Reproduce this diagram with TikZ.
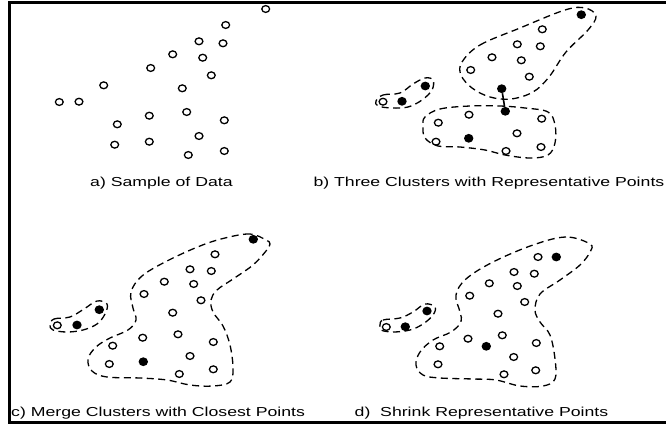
\documentclass[tikz,border=0pt]{standalone}
\usepackage{fontspec}
\setmainfont{Liberation Sans}
\usetikzlibrary{shapes.geometric}
\tikzset{
  op/.style={ellipse, draw, line width=1.3pt, minimum width=7.8pt, minimum height=6.8pt, inner sep=0pt},
  fp/.style={ellipse, fill, minimum width=9.4pt, minimum height=8.8pt, inner sep=0pt},
  hull/.style={dash pattern=on 7pt off 4.5pt, line width=1.3pt},
  capt/.style={anchor=base west, inner sep=0pt, font=\fontsize{13}{15}\selectfont},
  frm/.style={line width=3pt},
  link/.style={line width=1.6pt}
}
\newcommand{\wide}[1]{\scalebox{1.36}[1]{#1}}
\begin{document}
\begin{tikzpicture}[x=1pt,y=-1pt]
\useasboundingbox (0,0) rectangle (666,425);
\fill[white] (0,0) rectangle (666,425);
% frame
\draw[frm] (666,3) -- (9,3) -- (9,422) -- (666,422);

% ---- a) sample of data
\foreach \x/\y [count=\i] in {265.7/9, 225.7/25, 199/41.3, 223/43.3, 172.7/54.3, 202.7/57.7,
  150.7/68, 211.3/75.3, 103.7/85.3, 182.3/88.3, 59.3/102, 79/101.7, 149.3/115.7, 186.7/112,
  117.3/124.3, 224.3/120.3, 199/136, 114.7/144.7, 149.3/141.7, 188.3/155, 224.3/151}
  \node[op] (a\i) at (\x,\y) {};
\node[capt] (capa) at (90,186) {\wide{a) Sample of Data}};

% ---- b) three clusters
\draw[hull] plot[smooth cycle, tension=0.6] coordinates {(462,62) (480,45) (520,28) (565,10) (585,8) (596,16) (588,30) (566,52) (549,77) (533,92) (511,99) (490,97) (472,88) (461,75)};
\draw[hull] plot[smooth cycle, tension=0.6] coordinates {(425,117) (440,109) (470,106) (500,106) (525,108) (548,112) (555,125) (555,143) (548,155) (530,158) (505,155) (485,150) (460,147) (438,146) (425,138) (423,126)};
\draw[hull] plot[smooth cycle, tension=0.6] coordinates {(376,101) (383,95) (400,93) (413,84) (425,78) (433,80) (432,90) (422,100) (408,107) (392,108) (378,106)};
\foreach \x/\y [count=\i] in {542.3/29.3, 517.3/44.3, 540.3/46.3, 492/57.3, 521.3/60.3, 470.7/70,
  529.3/76.7, 383/101.7, 469/114.7, 438.3/122.7, 541.7/118.7, 517/133.3, 436/141.7, 506/151, 541/147}
  \node[op] (b\i) at (\x,\y) {};
\foreach \x/\y [count=\i] in {581.3/14.7, 425.3/86, 402/101.3, 501.7/88.7, 505.3/111.3, 468.7/138.3}
  \node[fp] (br\i) at (\x,\y) {};
\draw[link] (br4) -- (br5);
\node[capt] (capb) at (313.3,186) {\wide{b) Three Clusters with Representative Points}};

% ---- c) merge clusters
\draw[hull] plot[smooth cycle, tension=0.6] coordinates {(266,240) (250,234) (225,238) (200,246) (167,261) (142,276) (131,292) (133,308) (136,320) (128,330) (110,338) (96,347) (88,359) (92,371) (107,377) (140,378) (167,380) (190,385) (213,386) (230,382) (233,368) (230,345) (223,326) (213,312) (211,300) (217,290) (233,279) (253,265) (266,251) (270,244)};
\draw[hull] plot[smooth cycle, tension=0.6] coordinates {(50,325) (54,319) (70,317) (84,309) (97,301) (107,304) (105,314) (97,324) (83,330) (67,332) (53,330)};
\foreach \x/\y [count=\i] in {215/254.3, 190/269.3, 211.3/271, 164.3/281.7, 193.7/284, 144/294,
  201/300.3, 172.7/312.7, 57.3/325.3, 142.7/337.7, 178/334.3, 112.7/345.7, 213.3/342, 190/356,
  109.3/364, 213.3/369.3, 179.3/374}
  \node[op] (c\i) at (\x,\y) {};
\foreach \x/\y [count=\i] in {253.3/239.3, 99.3/309.7, 77/325, 143.3/361.7}
  \node[fp] (cr\i) at (\x,\y) {};
\node[capt] (capc) at (11,416.5) {\wide{c) Merge Clusters with Closest Points}};

% ---- d) shrink representative points
\draw[hull] plot[smooth cycle, tension=0.6] coordinates {(590,244) (566,237) (533,245) (493,262) (466,279) (456,295) (460,312) (461,322) (451,332) (433,340) (420,352) (416,365) (423,375) (440,378) (473,379) (496,380) (520,386) (543,386) (555,379) (555,359) (550,335) (540,322) (535,310) (540,294) (560,280) (580,265) (590,252)};
\draw[hull] plot[smooth cycle, tension=0.6] coordinates {(380,325) (383,320) (400,318) (413,312) (425,304) (435,307) (433,315) (423,324) (410,330) (393,332) (381,330)};
\foreach \x/\y [count=\i] in {538/257, 514/272, 534.3/273.7, 489.3/283.3, 517.3/286, 469.7/295.7,
  524.7/302, 498/313.7, 386.3/327, 468/338.7, 502.3/335.3, 439.7/346.3, 536.3/343, 513.7/357,
  438/364.3, 535.7/370.3, 504/374.3}
  \node[op] (d\i) at (\x,\y) {};
\foreach \x/\y [count=\i] in {556.3/257, 427/311, 405.3/326.7, 486.3/346.3}
  \node[fp] (dr\i) at (\x,\y) {};
\node[capt] (capd) at (354.5,416.5) {\wide{d)\ \ Shrink Representative Points}};
\end{tikzpicture}
\end{document}
